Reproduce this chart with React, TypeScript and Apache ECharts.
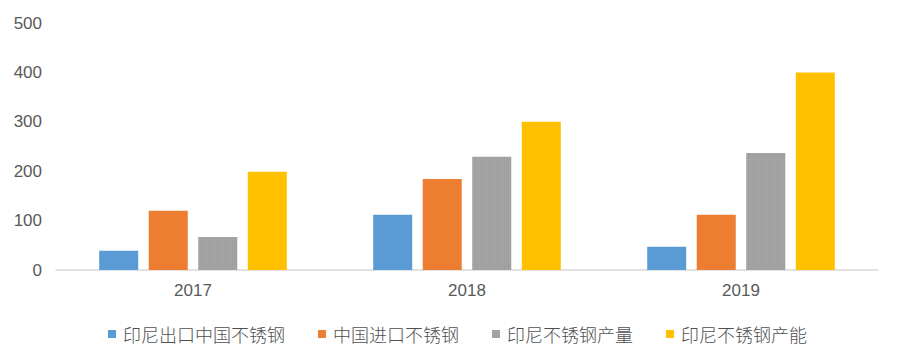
import React, { useEffect, useRef } from "react";
import * as echarts from "echarts";

const categories = ["2017", "2018", "2019"];
const seriesNames = ["印尼出口中国不锈钢", "中国进口不锈钢", "印尼不锈钢产量", "印尼不锈钢产能"];
const exportToChina = [39, 112, 47];
const chinaImport = [120, 184, 112];
const production = [67, 229, 237];
const capacity = [199, 300, 400];
const colors = ["#5B9BD5", "#ED7D31", "#A5A5A5", "#FFC000"];

export default function App() {
  const ref = useRef<HTMLDivElement>(null);
  useEffect(() => {
    if (!ref.current) return;
    const chart = echarts.init(ref.current, null, { renderer: "svg" });
    const data = [exportToChina, chinaImport, production, capacity];
    chart.setOption({
      animation: false,
      grid: { left: 56, right: 23, top: 23, bottom: 87, containLabel: false },
      legend: {
        left: 103,
        top: 320,
        itemWidth: 8,
        itemHeight: 8,
        itemGap: 33,
        icon: "rect",
        textStyle: {
          fontFamily: "Noto Sans CJK SC",
          fontSize: 18,
          fontWeight: 300,
          color: "#505050",
          padding: [0, 0, 0, 2],
        },
        data: seriesNames,
      },
      xAxis: {
        type: "category",
        data: categories,
        axisTick: { show: false },
        axisLine: { lineStyle: { color: "#D9D9D9", width: 1.5 } },
        axisLabel: { color: "#595959", fontSize: 17, fontFamily: "Liberation Sans", margin: 12 },
      },
      yAxis: {
        type: "value",
        min: 0,
        max: 500,
        interval: 100,
        splitLine: { show: false },
        axisLine: { show: false },
        axisTick: { show: false },
        axisLabel: { color: "#595959", fontSize: 17, fontFamily: "Liberation Sans", margin: 14 },
      },
      series: seriesNames.map((name, i) => ({
        name,
        type: "bar",
        data: data[i],
        barWidth: 39,
        barGap: "27%",
        itemStyle:
          i === 2
            ? {
                color: colors[i],
                decal: {
                  symbol: "rect",
                  symbolSize: 1,
                  color: "rgba(0,0,0,0.08)",
                  dashArrayX: [1, 1],
                  dashArrayY: [1, 1],
                  rotation: 0,
                },
              }
            : { color: colors[i] },
      })),
    });
    return () => chart.dispose();
  }, []);
  return (
    <div
      ref={ref}
      style={{ position: "absolute", left: 0, top: 0, width: 901, height: 357, background: "#fff" }}
    />
  );
}
